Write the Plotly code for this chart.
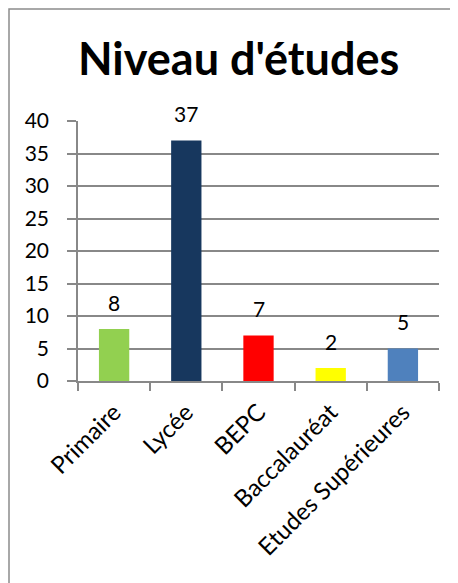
import plotly.graph_objects as go

categories = ["Primaire", "Lycée", "BEPC", "Baccalauréat", "Etudes Supérieures"]
values = [8, 37, 7, 2, 5]
colors = ["#92D050", "#17375E", "#FF0000", "#FFFF00", "#4F81BD"]
y_ticks = [0, 5, 10, 15, 20, 25, 30, 35, 40]
title_text = "Niveau d'études"

# page body has an 8px default margin, so the figure starts at (8, 8)
OFF = 8
W, H = 458 - OFF, 583 - OFF
L, T = 78 - OFF, 121 - OFF
pw, ph = 439 - 78, 381 - 121
R, B = W - L - pw, H - T - ph

fig = go.Figure()
fig.add_trace(go.Bar(
    x=categories, y=values, marker=dict(color=colors, line=dict(width=0)),
    width=0.42, hoverinfo="skip",
))

annotations = []
for c, v in zip(categories, values):
    annotations.append(dict(
        x=c, y=v, xref="x", yref="y", text=str(v), showarrow=False,
        yanchor="middle", yshift=27, font=dict(family="Lato", size=21, color="black"),
    ))

title_cx, title_cy = 238 - OFF, 58 - OFF
annotations.append(dict(
    x=(title_cx - L) / pw, y=(T + ph - title_cy) / ph, xref="paper", yref="paper",
    text="<b>" + title_text + "</b>", showarrow=False, xanchor="center", yanchor="middle",
    font=dict(family="Lato", size=45, color="black"),
))

gray = "#888888"
fig.update_layout(
    width=W, height=H,
    margin=dict(l=L, r=R, t=T, b=B, pad=0, autoexpand=False),
    paper_bgcolor="white", plot_bgcolor="white",
    showlegend=False,
    annotations=annotations,
    shapes=[dict(
        type="rect", xref="paper", yref="paper",
        x0=(1 - L) / pw, x1=(W + 30 - L) / pw,
        y0=-(B + 30) / ph, y1=(T - 1 + ph) / ph,
        line=dict(color="#8C8C8C", width=1.5), fillcolor="rgba(0,0,0,0)", layer="below",
    )],
    xaxis=dict(
        type="category", tickangle=-45, showgrid=False,
        showline=True, linecolor=gray, linewidth=1.5,
        ticks="outside", ticklen=8, tickcolor=gray, tickwidth=1.5,
        tickson="boundaries", ticklabelstandoff=6,
        tickfont=dict(family="Lato", size=24, color="black"),
        fixedrange=True, automargin=False,
    ),
    yaxis=dict(
        range=[0, 40], tickvals=y_ticks, showgrid=True, gridcolor=gray, gridwidth=1.5,
        showline=True, linecolor=gray, linewidth=1.5,
        ticks="outside", ticklen=9, tickcolor=gray, tickwidth=1.5,
        ticklabelstandoff=14,
        tickfont=dict(family="Lato", size=21, color="black"),
        zeroline=False, fixedrange=True, automargin=False,
    ),
)

fig.write_html("out.html")
